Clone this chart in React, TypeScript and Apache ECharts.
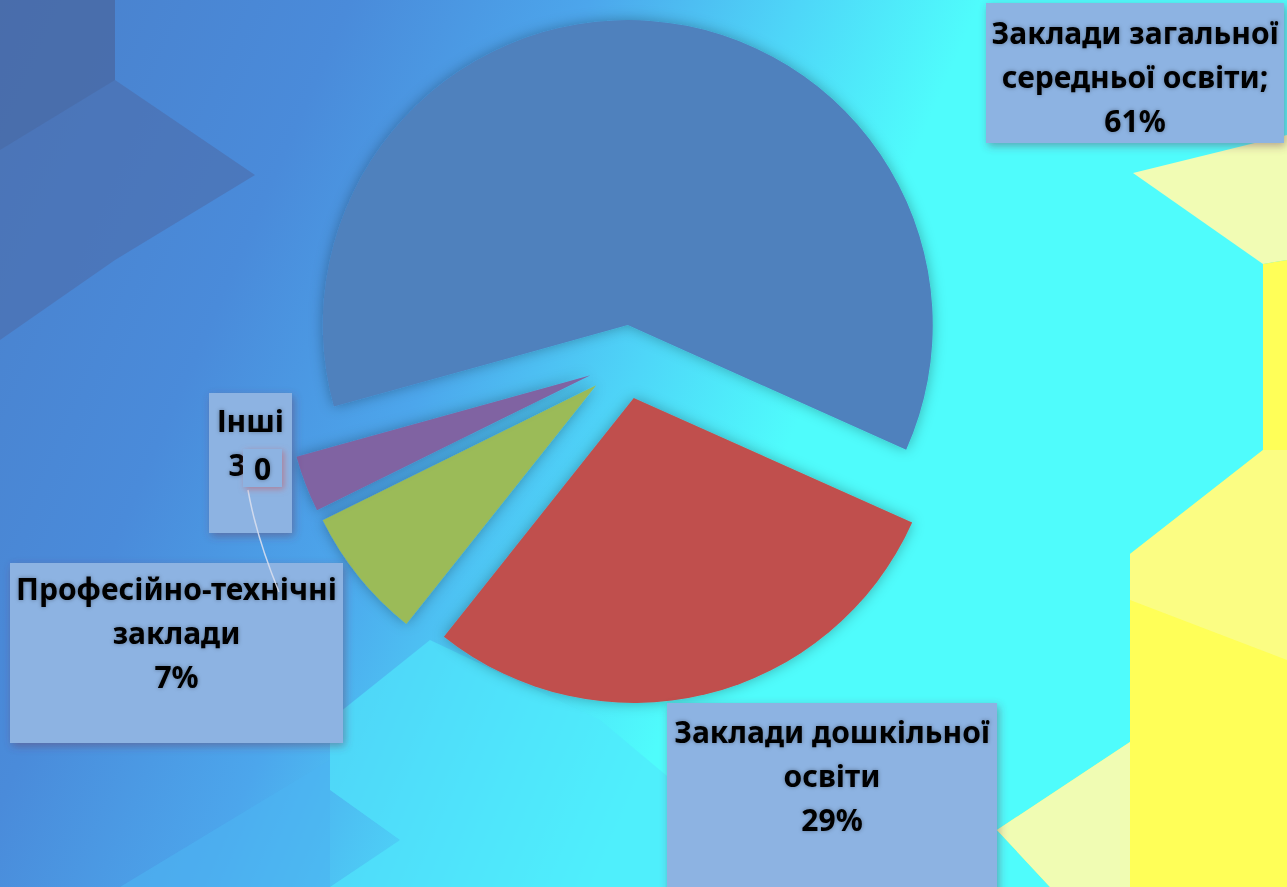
import React, { useEffect, useRef } from "react";
import * as echarts from "echarts";

const categories = [
  "Заклади загальної\nсередньої освіти;",
  "Заклади дошкільної\nосвіти",
  "Професійно-технічні\nзаклади",
  "Інші",
];
const values = [61, 29, 7, 3];
const sliceColors = ["#4F81BD", "#C0504D", "#9BBB59", "#8064A2"];
const overlapText = "0";

// label box layout (centre x, top y, width, height, top padding)
const labelBoxes = [
  { cx: 1135, top: 3, w: 298, h: 140, pad: 7 },
  { cx: 832, top: 703, w: 330, h: 190, pad: 6 },
  { cx: 176.5, top: 563, w: 333, h: 180, pad: 3 },
  { cx: 250.5, top: 393, w: 83, h: 140, pad: 5 },
];

const FONT = "'Noto Sans', 'Open Sans', sans-serif";
const BOX = "#8DB3E2";

export default function App() {
  const ref = useRef<HTMLDivElement>(null);
  useEffect(() => {
    const chart = echarts.init(ref.current!, null, { renderer: "svg" });

    const labelElements: any[] = [];
    categories.forEach((name, i) => {
      const b = labelBoxes[i];
      labelElements.push({
        type: "rect",
        z: 50,
        shape: { x: b.cx - b.w / 2, y: b.top, width: b.w, height: b.h },
        style: {
          fill: BOX,
          shadowBlur: 8,
          shadowColor: "rgba(110,60,90,0.45)",
          shadowOffsetX: 2,
          shadowOffsetY: 3,
        },
      });
      labelElements.push({
        type: "text",
        z: 51,
        x: b.cx,
        y: b.top + b.pad,
        style: {
          text: `${name}\n${values[i]}%`,
          fill: "#000",
          font: `bold 30px ${FONT}`,
          lineHeight: 44,
          align: "center",
          verticalAlign: "top",
          textShadowBlur: 4,
          textShadowColor: "rgba(0,0,0,0.35)",
        },
      });
    });

    const option: any = {
      animation: false,
      graphic: {
        elements: [
          {
            type: "rect",
            z: -20,
            shape: { x: 0, y: 0, width: 1287, height: 887 },
            style: {
              fill: new echarts.graphic.LinearGradient(0, 0, 1, 0.3, [
                { offset: 0, color: "#4a80cb" },
                { offset: 0.25, color: "#4a8bda" },
                { offset: 0.42, color: "#4ca6ec" },
                { offset: 0.57, color: "#4ed6f8" },
                { offset: 0.7, color: "#4ffcfc" },
                { offset: 1, color: "#4ffcfc" },
              ]),
            },
          },
          {
            type: "polygon",
            z: -19,
            shape: { points: [[120, 887], [330, 760], [330, 887]] },
            style: { fill: "rgba(76,180,242,0.6)" },
          },
          {
            type: "polygon",
            z: -19,
            shape: { points: [[330, 887], [400, 840], [330, 790], [330, 720], [430, 640], [600, 720], [800, 887]] },
            style: { fill: "rgba(80,232,252,0.65)" },
          },
          {
            type: "polygon",
            z: -19,
            shape: { points: [[0, 0], [115, 0], [115, 80], [255, 175], [115, 260], [0, 340]] },
            style: { fill: "rgba(76,108,170,0.6)" },
          },
          {
            type: "polygon",
            z: -19,
            shape: { points: [[0, 0], [115, 0], [115, 80], [0, 150]] },
            style: { fill: "rgba(72,96,150,0.35)" },
          },
          {
            type: "polygon",
            z: -19,
            shape: { points: [[1133, 173], [1287, 135], [1287, 260], [1263, 264]] },
            style: { fill: "#f1fcb4" },
          },
          {
            type: "polygon",
            z: -19,
            shape: {
              points: [[1263, 264], [1287, 260], [1287, 887], [1050, 887], [997, 830], [1130, 742], [1130, 554], [1263, 450]],
            },
            style: { fill: "#ffff58" },
          },
          {
            type: "polygon",
            z: -18,
            shape: { points: [[1130, 554], [1263, 450], [1287, 450], [1287, 660], [1130, 600]] },
            style: { fill: "rgba(250,252,150,0.7)" },
          },
          {
            type: "polygon",
            z: -18,
            shape: { points: [[997, 830], [1130, 742], [1130, 887], [1050, 887]] },
            style: { fill: "rgba(238,252,190,0.9)" },
          },
          ...labelElements,
          {
            type: "bezierCurve",
            z: 100,
            shape: { x1: 248, y1: 490, x2: 279, y2: 592, cpx1: 255, cpy1: 530, cpx2: 270, cpy2: 570 },
            style: { stroke: "rgba(215,222,238,0.9)", lineWidth: 1.5, fill: null },
          },
          {
            type: "rect",
            z: 100,
            shape: { x: 243, y: 449, width: 39, height: 38 },
            style: { fill: BOX, shadowBlur: 6, shadowColor: "rgba(200,90,100,0.6)", shadowOffsetX: 2, shadowOffsetY: 2 },
          },
          {
            type: "text",
            z: 101,
            x: 262.5,
            y: 468,
            style: {
              text: overlapText,
              fill: "#000",
              font: `bold 30px ${FONT}`,
              align: "center",
              verticalAlign: "middle",
              textShadowBlur: 4,
              textShadowColor: "rgba(0,0,0,0.35)",
            },
          },
        ],
      },
      series: [
        {
          type: "pie",
          center: [625, 362],
          radius: 305,
          startAngle: 195.5,
          clockwise: true,
          selectedMode: "multiple",
          selectedOffset: 37,
          emphasis: { disabled: true },
          label: { show: false },
          labelLine: { show: false },
          itemStyle: { shadowBlur: 14, shadowColor: "rgba(0,0,0,0.3)" },
          data: categories.map((name, i) => ({
            name,
            value: values[i],
            selected: true,
            itemStyle: { color: sliceColors[i] },
          })),
        },
      ],
    };
    chart.setOption(option);
    return () => chart.dispose();
  }, []);
  return <div ref={ref} style={{ position: "fixed", left: 0, top: 0, width: 1287, height: 887 }} />;
}
